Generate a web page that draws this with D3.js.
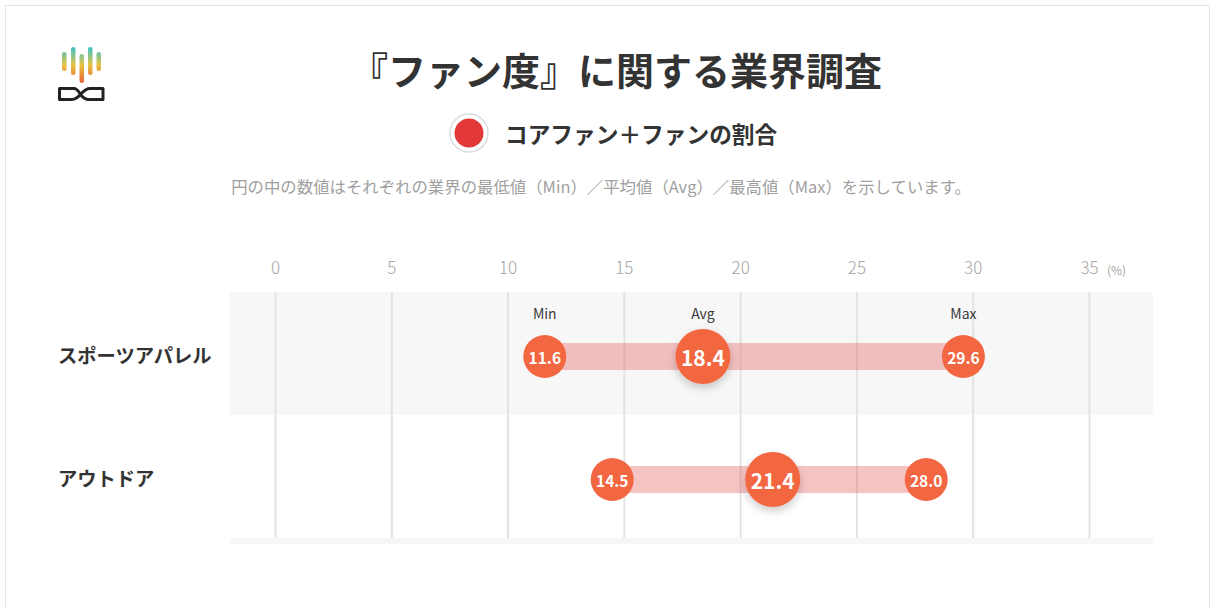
<!doctype html>
<html lang="ja">
<head>
<meta charset="UTF-8">
<title>『ファン度』に関する業界調査</title>
<style>
  body { margin: 0; background: #fff; font-family: "Noto Sans CJK JP", "Noto Sans", sans-serif; }
  svg { display: block; }
</style>
</head>
<body>
<div id="chart"></div>
<script src="https://d3js.org/d3.v7.min.js"></script>
<script>
  // data
  const industries = ['スポーツアパレル', 'アウトドア']
  const minValues = [11.6, 14.5]
  const avgValues = [18.4, 21.4]
  const maxValues = [29.6, 28.0]
  const xTicks = [0, 5, 10, 15, 20, 25, 30, 35]
  const pointLabels = ['Min', 'Avg', 'Max']

  const title = '『ファン度』に関する業界調査'
  const legendLabel = 'コアファン＋ファンの割合'
  const note = '円の中の数値はそれぞれの業界の最低値（Min）／平均値（Avg）／最高値（Max）を示しています。'

  const width = 1213
  const height = 609
  const plotLeft = 230
  const plotRight = 1153
  const plotTop = 292
  const plotBottom = 538

  const svg = d3.select('#chart')
    .append('svg')
    .attr('width', width)
    .attr('height', height)

  const defs = svg.append('defs')
  const grad = defs.append('linearGradient')
    .attr('id', 'logoGrad')
    .attr('gradientUnits', 'userSpaceOnUse')
    .attr('x1', 0).attr('x2', 0)
    .attr('y1', 46).attr('y2', 84)
  grad.append('stop').attr('offset', '0%').attr('stop-color', '#2fc3d8')
  grad.append('stop').attr('offset', '50%').attr('stop-color', '#e6c443')
  grad.append('stop').attr('offset', '100%').attr('stop-color', '#ea5a32')

  const shadow = defs.append('filter').attr('id', 'shadow')
    .attr('x', '-50%').attr('y', '-50%').attr('width', '200%').attr('height', '200%')
  shadow.append('feDropShadow')
    .attr('dx', 0).attr('dy', 4).attr('stdDeviation', 4)
    .attr('flood-color', '#000').attr('flood-opacity', 0.2)

  // card
  svg.append('rect')
    .attr('x', 5.5).attr('y', 5.5)
    .attr('width', 1204).attr('height', 640)
    .attr('fill', '#fff')
    .attr('stroke', '#e4e4e4')

  // logo
  const logo = svg.append('g')
  const logoBars = [[62, 52, 71], [71, 47, 75], [79.5, 54, 83], [88, 47, 75], [96.5, 52, 71]]
  logo.selectAll('rect')
    .data(logoBars)
    .enter()
    .append('rect')
    .attr('x', d => d[0])
    .attr('y', d => d[1])
    .attr('width', 4.5)
    .attr('height', d => d[2] - d[1])
    .attr('rx', 2.2)
    .attr('fill', 'url(#logoGrad)')
  logo.append('path')
    .attr('d', 'M74,88.5 L59.5,88.5 L59.5,99.5 L72,99.5 C80,99.5 82,88.5 90,88.5 L103,88.5 L103,99.5 L88,99.5 C80,99.5 80,88.5 74,88.5 Z')
    .attr('fill', 'none')
    .attr('stroke', '#222')
    .attr('stroke-width', 3)
    .attr('stroke-linejoin', 'round')

  // title
  svg.append('text')
    .attr('x', 616).attr('y', 68)
    .attr('text-anchor', 'middle')
    .attr('dominant-baseline', 'central')
    .style('font-size', '38px')
    .style('font-weight', 700)
    .style('fill', '#333')
    .text(title)

  // legend
  svg.append('circle')
    .attr('cx', 469).attr('cy', 133).attr('r', 19)
    .attr('fill', '#fff').attr('stroke', '#dcdcdc').attr('stroke-width', 1.5)
  svg.append('circle')
    .attr('cx', 469).attr('cy', 133).attr('r', 14.5)
    .attr('fill', '#e23838')
  svg.append('text')
    .attr('x', 505).attr('y', 133)
    .attr('dominant-baseline', 'central')
    .style('font-size', '22.7px')
    .style('font-weight', 700)
    .style('fill', '#333')
    .text(legendLabel)

  svg.append('text')
    .attr('x', 601).attr('y', 186)
    .attr('text-anchor', 'middle')
    .attr('dominant-baseline', 'central')
    .style('font-size', '16.4px')
    .style('fill', '#a0a0a0')
    .text(note)

  // scales
  const x = d3.scaleLinear().domain([0, 35]).range([275, 1089])
  const y = d3.scaleBand().domain(industries).range([plotTop, plotBottom]).padding(0)

  // row backgrounds
  svg.selectAll('.row-bg')
    .data(industries)
    .enter()
    .append('rect')
    .attr('class', 'row-bg')
    .attr('x', plotLeft)
    .attr('y', d => y(d))
    .attr('width', plotRight - plotLeft)
    .attr('height', y.bandwidth())
    .attr('fill', (d, i) => i % 2 === 0 ? '#f7f7f7' : '#fff')

  svg.append('rect')
    .attr('x', plotLeft).attr('y', plotBottom)
    .attr('width', plotRight - plotLeft).attr('height', 6)
    .attr('fill', '#f6f6f6')

  // grid lines
  const grid = svg.append('g')
    .attr('transform', `translate(0, ${plotBottom})`)
    .call(d3.axisTop(x).tickValues(xTicks).tickSize(plotBottom - plotTop).tickFormat(''))
  grid.select('.domain').remove()
  grid.selectAll('line').attr('stroke', '#e3e3e3').attr('stroke-width', 2)

  // tick labels
  const axis = svg.append('g')
    .attr('transform', 'translate(0, 268)')
    .call(d3.axisTop(x).tickValues(xTicks).tickSize(0).tickPadding(0))
  axis.select('.domain').remove()
  axis.selectAll('text')
    .attr('dy', '0.35em')
    .style('font-family', '"Noto Sans CJK JP", sans-serif')
    .style('font-size', '17px')
    .style('font-weight', 300)
    .style('fill', '#a5a5a5')
  svg.append('text')
    .attr('x', x(35) + 18).attr('y', 269)
    .attr('dominant-baseline', 'central')
    .style('font-size', '12px')
    .style('fill', '#a5a5a5')
    .text('(%)')

  // row labels
  svg.selectAll('.row-label')
    .data(industries)
    .enter()
    .append('text')
    .attr('class', 'row-label')
    .attr('x', 58)
    .attr('y', d => y(d) + y.bandwidth() / 2 + 1)
    .attr('dominant-baseline', 'central')
    .style('font-size', '19.3px')
    .style('font-weight', 700)
    .style('fill', '#333')
    .text(d => d)

  const rowY = d => y(d) + y.bandwidth() / 2 + 3

  // range bars
  svg.selectAll('.range')
    .data(industries)
    .enter()
    .append('rect')
    .attr('class', 'range')
    .attr('x', (d, i) => x(minValues[i]))
    .attr('y', d => rowY(d) - 13.5)
    .attr('width', (d, i) => x(maxValues[i]) - x(minValues[i]))
    .attr('height', 27)
    .attr('fill', 'rgba(232, 96, 96, 0.38)')

  // points
  const points = []
  industries.forEach((name, i) => {
    points.push({ name, kind: 'Min', value: minValues[i], row: i })
    points.push({ name, kind: 'Avg', value: avgValues[i], row: i })
    points.push({ name, kind: 'Max', value: maxValues[i], row: i })
  })

  const dots = svg.selectAll('.dot')
    .data(points)
    .enter()
    .append('g')
    .attr('class', 'dot')
    .attr('transform', d => `translate(${x(d.value)}, ${rowY(d.name)})`)

  dots.append('circle')
    .attr('r', d => d.kind === 'Avg' ? 27.5 : 21.5)
    .attr('fill', '#f26641')
    .attr('filter', d => d.kind === 'Avg' ? 'url(#shadow)' : null)

  dots.append('text')
    .attr('text-anchor', 'middle')
    .attr('dominant-baseline', 'central')
    .style('font-size', d => d.kind === 'Avg' ? '21px' : '15.5px')
    .style('font-weight', 700)
    .style('fill', '#fff')
    .text(d => d.value.toFixed(1))

  // Min / Avg / Max captions on the first row
  svg.selectAll('.caption')
    .data(points.filter(d => d.row === 0))
    .enter()
    .append('text')
    .attr('class', 'caption')
    .attr('x', d => x(d.value))
    .attr('y', 313)
    .attr('text-anchor', 'middle')
    .attr('dominant-baseline', 'central')
    .style('font-size', '14px')
    .style('fill', '#3a3a3a')
    .text((d, i) => pointLabels[i])
</script>
</body>
</html>
